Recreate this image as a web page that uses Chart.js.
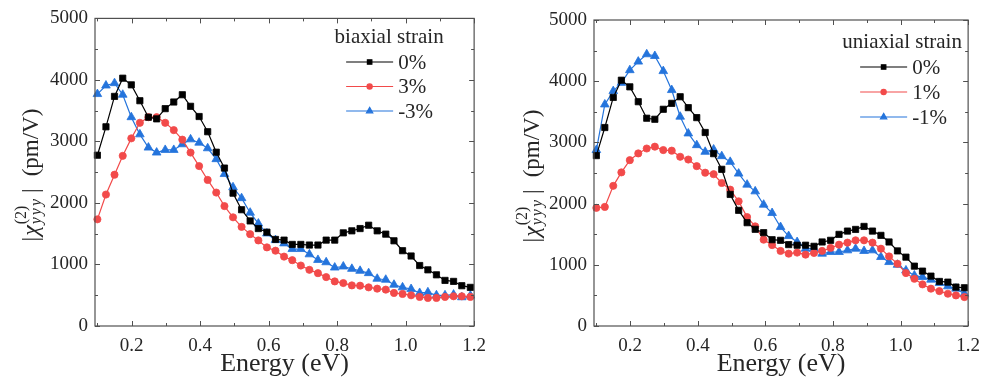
<!DOCTYPE html>
<html><head><meta charset="utf-8">
<script src="https://cdn.jsdelivr.net/npm/chart.js@4.4.0/dist/chart.umd.min.js"></script>
<style>
html,body{margin:0;padding:0;background:#fff;}
#wrap{position:relative;width:989px;height:383px;overflow:hidden;background:#fff;}
canvas{position:absolute;top:0;}
</style></head><body>
<div id="wrap">
<canvas id="left" width="495" height="383" style="left:0"></canvas>
<canvas id="right" width="494" height="383" style="left:495px"></canvas>
</div>
<script>
// ---------------- data ----------------
const energy = [0.100,0.125,0.150,0.174,0.199,0.224,0.249,0.273,0.298,0.323,0.348,0.372,0.397,0.422,0.447,0.471,0.496,0.521,0.546,0.570,0.595,0.620,0.645,0.669,0.694,0.719,0.744,0.768,0.793,0.818,0.843,0.867,0.892,0.917,0.942,0.966,0.991,1.016,1.041,1.065,1.090,1.115,1.140,1.164,1.189];

const biaxial0  = [2776,3238,3732,4028,3920,3662,3394,3367,3533,3641,3759,3571,3405,3158,2825,2567,2159,1890,1708,1584,1525,1407,1396,1326,1326,1316,1316,1396,1396,1514,1547,1584,1638,1547,1493,1385,1224,1138,983,913,832,741,725,655,628];
const biaxial3  = [1734,2137,2459,2766,3050,3303,3394,3394,3303,3184,3029,2819,2599,2374,2169,1949,1767,1611,1493,1391,1278,1224,1128,1070,983,913,859,795,725,698,660,655,628,607,591,537,521,499,473,456,456,473,483,483,473];
const biaxialM3 = [3770,3909,3947,3759,3394,3115,2900,2819,2862,2862,2954,3034,2980,2889,2712,2470,2255,2078,1842,1665,1504,1396,1343,1251,1251,1165,1074,1036,950,967,929,897,859,768,752,671,628,601,537,548,499,499,510,467,494];

const uniaxial0  = [2784,3243,3735,4016,3908,3665,3395,3378,3541,3638,3746,3568,3405,3162,2816,2560,2150,1890,1688,1580,1525,1410,1400,1330,1320,1320,1302,1373,1400,1497,1551,1578,1627,1551,1481,1373,1227,1125,978,897,815,728,717,636,625];
const uniaxial1  = [1930,1946,2290,2510,2710,2820,2900,2930,2875,2865,2765,2720,2612,2505,2480,2337,2228,2037,1780,1628,1410,1322,1226,1182,1199,1166,1193,1226,1275,1329,1362,1400,1400,1362,1263,1137,1017,865,772,680,610,570,527,500,473];
const uniaxialM1 = [2875,3620,3838,3973,4180,4320,4440,4412,4165,3855,3420,3146,2955,2846,2884,2775,2682,2490,2310,2200,1982,1846,1617,1470,1372,1263,1263,1182,1209,1209,1236,1263,1226,1236,1127,1045,1000,908,826,800,757,702,648,610,528];

const biaxialLabels  = ['0%','3%','-3%'];
const uniaxialLabels = ['0%','1%','-1%'];

const xTicks = [0.2,0.4,0.6,0.8,1.0,1.2];
const xTickLabels = ['0.2','0.4','0.6','0.8','1.0','1.2'];
const xMinorTicks = [0.1,0.3,0.5,0.7,0.9,1.1];
const yTicks = [0,1000,2000,3000,4000,5000];
const yTickLabels = ['0','1000','2000','3000','4000','5000'];
const yMinorTicks = [500,1500,2500,3500,4500];

// ---------------- style ----------------
const FONT = '"Liberation Serif","Times New Roman",serif';
const BLACK = '#000000', RED = '#f24a4a', BLUE = '#2474dc';
const TEXT = '#262626', FRAME = '#505050';

function series(vals, label, color, style, r){
  return {
    label, data: energy.map((e,i)=>({x:e, y:vals[i]})),
    borderColor: color, backgroundColor: color, borderWidth: 1.2,
    pointStyle: style, pointRadius: r, pointHoverRadius: r,
    pointBorderWidth: 0.8, pointBorderColor: color, pointBackgroundColor: color,
    tension: 0, clip: false
  };
}

const frameTicks = {
  id:'frameTicks',
  afterDatasetsDraw(chart){
    const {ctx, chartArea:a, scales:{x, y}} = chart;
    ctx.save();
    ctx.strokeStyle = FRAME; ctx.lineWidth = 1.2;
    ctx.strokeRect(a.left, a.top, a.right-a.left, a.bottom-a.top);
    ctx.lineWidth = 1;
    const vt = (v, len) => { const p = Math.round(x.getPixelForValue(v))+0.5;
      ctx.beginPath(); ctx.moveTo(p, a.bottom); ctx.lineTo(p, a.bottom-len);
      ctx.moveTo(p, a.top); ctx.lineTo(p, a.top+len); ctx.stroke(); };
    const ht = (v, len) => { const p = Math.round(y.getPixelForValue(v))+0.5;
      ctx.beginPath(); ctx.moveTo(a.left, p); ctx.lineTo(a.left+len, p);
      ctx.moveTo(a.right, p); ctx.lineTo(a.right-len, p); ctx.stroke(); };
    xTicks.forEach(v=>vt(v,5)); xMinorTicks.forEach(v=>vt(v,3));
    yTicks.forEach(v=>ht(v,5)); yMinorTicks.forEach(v=>ht(v,3));
    ctx.restore();
  }
};

const legendBox = {
  id:'legendBox',
  afterDraw(chart, args, o){
    const {ctx, chartArea:a} = chart;
    ctx.save();
    ctx.font = `21px ${FONT}`; ctx.fillStyle = TEXT; ctx.textBaseline = 'middle';
    ctx.textAlign = 'center';
    ctx.fillText(o.title, a.right + o.titleDx, o.titleY);
    chart.data.datasets.forEach((ds,i)=>{
      const yy = o.y0 + i*o.dy;
      const x1 = a.right + o.lineX1, x2 = a.right + o.lineX2;
      ctx.strokeStyle = ds.borderColor; ctx.lineWidth = 1.2;
      ctx.beginPath(); ctx.moveTo(x1, yy); ctx.lineTo(x2, yy); ctx.stroke();
      ctx.fillStyle = ds.backgroundColor; ctx.strokeStyle = ds.borderColor;
      Chart.helpers.drawPoint(ctx, {pointStyle: ds.pointStyle, radius: ds.pointRadius*0.72, borderWidth: 0.8, rotation: 0}, (x1+x2)/2, yy);
      ctx.fillStyle = TEXT; ctx.textAlign = 'left';
      ctx.fillText(ds.label, a.right + o.textDx, yy+1);
    });
    ctx.restore();
  }
};

const yTitle = {
  id:'yTitle',
  afterDraw(chart, args, o){
    const ctx = chart.ctx;
    ctx.save();
    ctx.translate(o.x, o.y); ctx.rotate(-Math.PI/2);
    ctx.fillStyle = TEXT; ctx.textBaseline = 'alphabetic'; ctx.textAlign = 'left';
    const main = `23px ${FONT}`, mainIt = `italic 24px ${FONT}`, small = `16px ${FONT}`, smallIt = `italic 16px ${FONT}`;
    const w = (t, f, ls) => { ctx.font = f; ctx.letterSpacing = ls || '0px'; const m = ctx.measureText(t).width; ctx.letterSpacing='0px'; return m; };
    const wBar = w('|', main), wChi = w('χ', mainIt), wSup = w('(2)', small), wSub = w('yyy', smallIt, '2px'), wUnit = w('(pm/V)', main);
    const wScr = Math.max(wSup, wSub);
    const total = wBar + 1 + wChi + 1 + wScr + 4 + wBar + 12 + wUnit;
    let cx = -total/2;
    ctx.font = main; ctx.fillText('|', cx, 0); cx += wBar + 1;
    ctx.font = mainIt; ctx.fillText('χ', cx, 0); cx += wChi + 1;
    ctx.font = small; ctx.fillText('(2)', cx, -12);
    ctx.font = smallIt; ctx.letterSpacing = '2px'; ctx.fillText('yyy', cx, 3); ctx.letterSpacing = '0px';
    cx += wScr + 4;
    ctx.font = main; ctx.fillText('|', cx, 0); cx += wBar + 12;
    ctx.fillText('(pm/V)', cx, 0);
    ctx.restore();
  }
};

function makeChart(id, datasets, L){
  return new Chart(document.getElementById(id), {
    type: 'line',
    data: { datasets },
    options: {
      responsive: false, animation: false, devicePixelRatio: 1,
      layout: { padding: L.padding },
      plugins: {
        legend: { display: false }, tooltip: { enabled: false },
        legendBox: L.legend, yTitle: L.yTitle
      },
      scales: {
        x: {
          type: 'linear', min: 0.093, max: 1.2,
          afterBuildTicks: s => { s.ticks = xTicks.map(v=>({value:v})); },
          afterFit: s => { s.height = L.xHeight; },
          ticks: { callback: (v,i)=>xTickLabels[i], font:{family:FONT, size:19}, color: TEXT, padding: 9, maxRotation:0, autoSkip:false },
          grid: { display:false, drawTicks:false }, border: { display:false },
          title: { display:true, text:'Energy (eV)', font:{family:FONT, size:26}, color: TEXT, padding:{top:0, bottom:3} }
        },
        y: {
          type: 'linear', min: 0, max: 5000,
          afterBuildTicks: s => { s.ticks = yTicks.map(v=>({value:v})); },
          afterFit: s => { s.width = L.yWidth; },
          ticks: { callback: (v,i)=>yTickLabels[i], font:{family:FONT, size:19}, color: TEXT, padding: 7 },
          grid: { display:false, drawTicks:false }, border: { display:false }
        }
      }
    },
    plugins: [frameTicks, legendBox, yTitle]
  });
}

makeChart('left', [
  series(biaxial0,  biaxialLabels[0], BLACK, 'rect', 4.4),
  series(biaxial3,  biaxialLabels[1], RED,   'circle', 3.6),
  series(biaxialM3, biaxialLabels[2], BLUE,  'triangle', 5)
], {
  padding: {left:0, top:15.5, right:15, bottom:0}, yWidth: 95, xHeight: 57,
  legend: { title:'biaxial strain', titleDx:-85, titleY:37, lineX1:-128, lineX2:-81, textDx:-76, y0:62, dy:24.5 },
  yTitle: { x:38, y:175 }
});

makeChart('right', [
  series(uniaxial0,  uniaxialLabels[0], BLACK, 'rect', 4.4),
  series(uniaxial1,  uniaxialLabels[1], RED,   'circle', 3.6),
  series(uniaxialM1, uniaxialLabels[2], BLUE,  'triangle', 5)
], {
  padding: {left:0, top:20, right:14, bottom:0}, yWidth: 99, xHeight: 57,
  legend: { title:'uniaxial strain', titleDx:-66, titleY:42, lineX1:-108, lineX2:-61, textDx:-56, y0:67, dy:25 },
  yTitle: { x:43.5, y:176 }
});
</script>
</body></html>
